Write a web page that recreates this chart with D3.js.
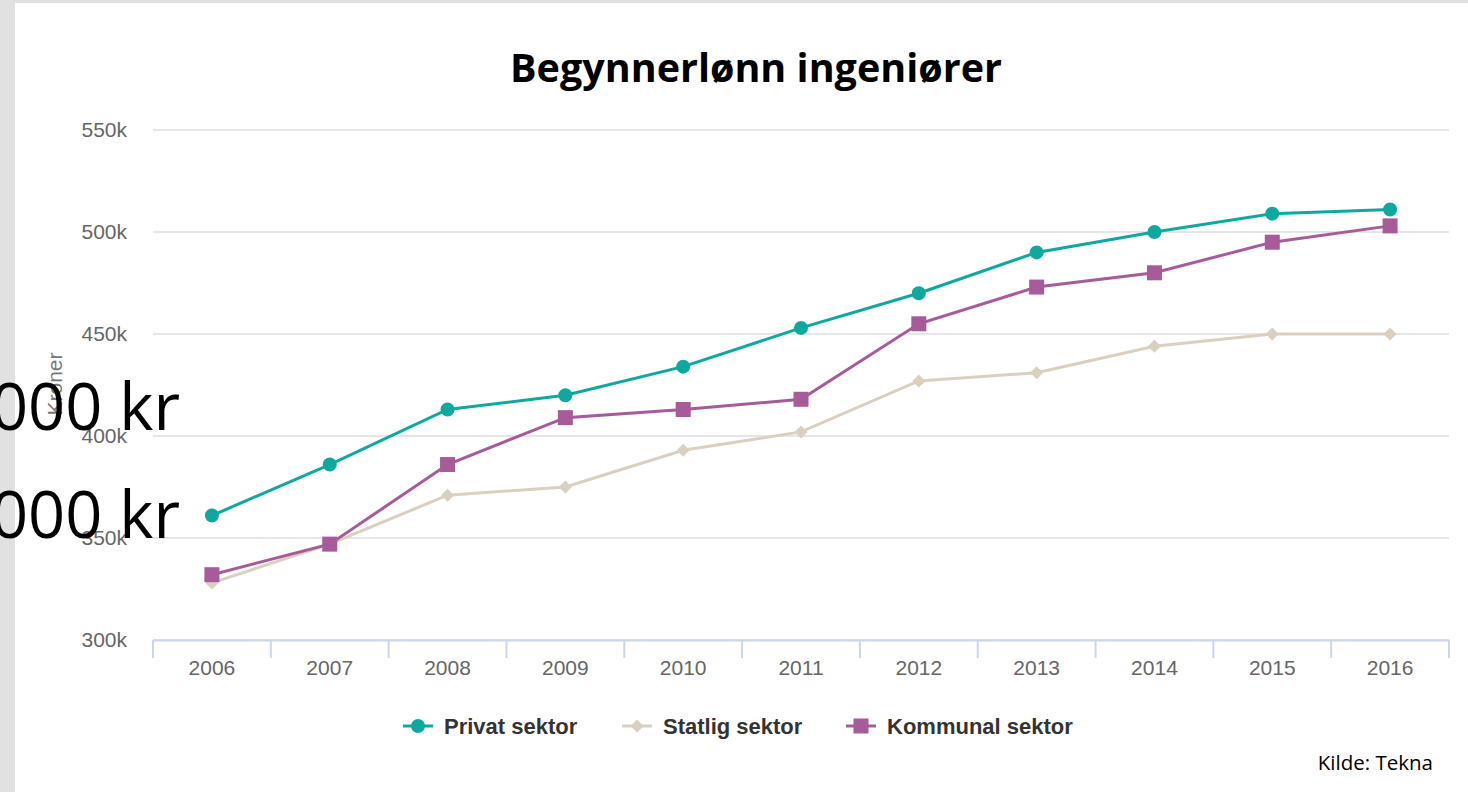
<!DOCTYPE html>
<html>
<head>
<meta charset="utf-8">
<script src="https://cdn.jsdelivr.net/npm/d3@7"></script>
<style>
  body { margin: 0; background: #fff; }
  svg { display: block; }
</style>
</head>
<body>
<div id="chart"></div>
<script>
// data (kroner, thousands)
const years = ["2006", "2007", "2008", "2009", "2010", "2011", "2012", "2013", "2014", "2015", "2016"];
const privat = [361, 386, 413, 420, 434, 453, 470, 490, 500, 509, 511];
const statlig = [328, 347, 371, 375, 393, 402, 427, 431, 444, 450, 450];
const kommunal = [332, 347, 386, 409, 413, 418, 455, 473, 480, 495, 503];
const yTicks = [300, 350, 400, 450, 500, 550];
const seriesNames = ["Privat sektor", "Statlig sektor", "Kommunal sektor"];

const W = 1468, H = 792;
const margin = {top: 130, right: 20, bottom: 152, left: 153};
const width = 1449 - margin.left;
const height = 640 - margin.top;
const axisFont = "'Liberation Sans', Arial, sans-serif";

const svg = d3.select("#chart").append("svg")
    .attr("width", W)
    .attr("height", H);

// slide frame
svg.append("rect").attr("x", 0).attr("y", 0).attr("width", W).attr("height", H).attr("fill", "#fff");
svg.append("rect").attr("x", 0).attr("y", 0).attr("width", 15).attr("height", H).attr("fill", "#e1e1e1");
svg.append("rect").attr("x", 0).attr("y", 0).attr("width", W).attr("height", 3).attr("fill", "#e1e1e1");

const g = svg.append("g")
    .attr("transform", "translate(" + margin.left + "," + margin.top + ")");

// scales
const x = d3.scaleBand()
    .domain(years)
    .range([0, width]);

const y = d3.scaleLinear()
    .domain([300, 550])
    .range([height, 0]);

// grid lines
g.append("g")
    .selectAll("line")
    .data(yTicks)
    .enter().append("line")
    .attr("x1", 0)
    .attr("x2", width)
    .attr("y1", d => y(d))
    .attr("y2", d => y(d))
    .attr("stroke", "#e6e6e6")
    .attr("stroke-width", 2);

// y axis labels
const yAxis = d3.axisLeft(y)
    .tickValues(yTicks)
    .tickSize(0)
    .tickPadding(26)
    .tickFormat(d => d + "k");

g.append("g")
    .attr("class", "y-axis")
    .call(yAxis)
    .call(a => a.select(".domain").remove())
    .selectAll("text")
    .attr("fill", "#666")
    .style("font-family", axisFont)
    .style("font-size", "21px");

// x axis
const xAxis = d3.axisBottom(x)
    .tickSize(0)
    .tickPadding(20);

const xa = g.append("g")
    .attr("class", "x-axis")
    .attr("transform", "translate(0," + height + ")")
    .call(xAxis);

xa.select(".domain").attr("stroke", "#ccd6eb").attr("stroke-width", 2);
xa.selectAll("text")
    .attr("fill", "#666")
    .style("font-family", axisFont)
    .style("font-size", "21px");

// tick marks between categories
xa.selectAll(".cat-tick")
    .data(years.concat(["end"]))
    .enter().append("line")
    .attr("class", "cat-tick")
    .attr("x1", (d, i) => i * x.bandwidth())
    .attr("x2", (d, i) => i * x.bandwidth())
    .attr("y1", 0)
    .attr("y2", 18)
    .attr("stroke", "#ccd6eb")
    .attr("stroke-width", 2);

// y axis title
g.append("text")
    .attr("transform", "rotate(-90)")
    .attr("x", -254)
    .attr("y", -margin.left + 62)
    .attr("text-anchor", "middle")
    .attr("fill", "#777")
    .style("font-family", axisFont)
    .style("font-size", "21px")
    .text("Kroner");

// series
const series = [
    {name: seriesNames[0], values: privat, color: "#0ea89f", symbol: d3.symbolCircle, size: 154, rot: 0},
    {name: seriesNames[1], values: statlig, color: "#d9d0bf", symbol: d3.symbolSquare, size: 85, rot: 45},
    {name: seriesNames[2], values: kommunal, color: "#a75b98", symbol: d3.symbolSquare, size: 225, rot: 0}
];

const line = d3.line()
    .x((d, i) => x(years[i]) + x.bandwidth() / 2)
    .y(d => y(d));

// draw statlig first, then kommunal, then privat on top
[1, 2, 0].forEach(k => {
    let s = series[k];
    let sg = g.append("g");
    sg.append("path")
        .datum(s.values)
        .attr("d", line)
        .attr("fill", "none")
        .attr("stroke", s.color)
        .attr("stroke-width", 3);

    sg.selectAll("path.marker")
        .data(s.values)
        .enter().append("path")
        .attr("class", "marker")
        .attr("d", d3.symbol().type(s.symbol).size(s.size))
        .attr("transform", (d, i) => "translate(" + (x(years[i]) + x.bandwidth() / 2) + "," + y(d) + ") rotate(" + s.rot + ")")
        .attr("fill", s.color);
});

// legend
const legendX = [403, 622, 846];
const legend = svg.append("g").attr("transform", "translate(0,726)");
series.forEach((s, i) => {
    let lg = legend.append("g").attr("transform", "translate(" + legendX[i] + ",0)");
    lg.append("line")
        .attr("x1", 0).attr("x2", 30)
        .attr("y1", 0).attr("y2", 0)
        .attr("stroke", s.color)
        .attr("stroke-width", 3);
    lg.append("path")
        .attr("d", d3.symbol().type(s.symbol).size(s.size))
        .attr("transform", "translate(15,0) rotate(" + s.rot + ")")
        .attr("fill", s.color);
    lg.append("text")
        .attr("x", 41)
        .attr("y", 8)
        .attr("fill", "#333")
        .style("font-family", axisFont)
        .style("font-weight", "bold")
        .style("font-size", "22px")
        .text(s.name);
});

// title
svg.append("text")
    .attr("x", 756)
    .attr("y", 82)
    .attr("text-anchor", "middle")
    .attr("fill", "#000")
    .style("font-family", "'Open Sans', 'Noto Sans', sans-serif")
    .style("font-weight", "bold")
    .style("font-size", "39.5px")
    .text("Begynnerlønn ingeniører");

// source
svg.append("text")
    .attr("x", 1433)
    .attr("y", 770)
    .attr("text-anchor", "end")
    .attr("fill", "#000")
    .style("font-family", "'Open Sans', 'Noto Sans', sans-serif")
    .style("font-size", "20.5px")
    .text("Kilde: Tekna");

// overlaid slide text, cut off at the left edge
const overlay = ["400 000 kr", "350 000 kr"];
const overlayY = [430, 538];
overlay.forEach((t, i) => {
    svg.append("text")
        .attr("x", 180)
        .attr("y", overlayY[i])
        .attr("text-anchor", "end")
        .attr("fill", "#000")
        .style("font-family", "'Open Sans', 'Noto Sans', sans-serif")
        .style("font-size", "65px")
        .text(t);
});
</script>
</body>
</html>
